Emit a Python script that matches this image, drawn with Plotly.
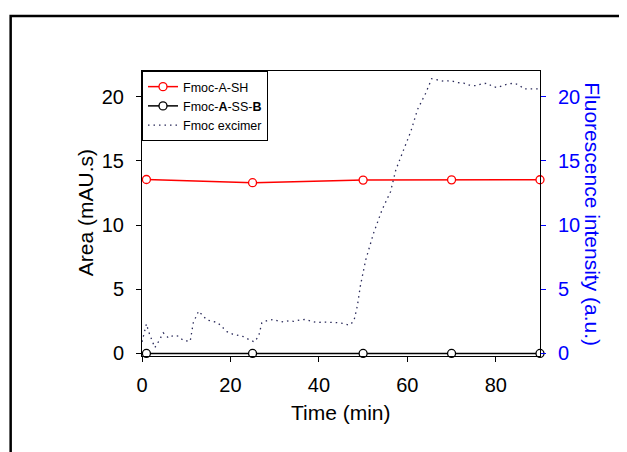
import plotly.graph_objects as go

# ---- data ----
hplc_time = [1, 25, 50, 70, 90]
fmoc_a_sh = [13.55, 13.3, 13.5, 13.52, 13.53]
fmoc_a_ss_b = [0, 0, 0, 0, 0]

exc_time = [0, 0.5, 1, 1.5, 2.2, 2.9, 3.7, 4.8, 6, 7.1, 8.2, 9.4, 10.9, 11.6, 12.8, 13.6,
            14.7, 16, 17.1, 19.2, 20.5, 21.8, 23, 24.1, 25.4, 26.4, 27.1, 28.3, 29.8, 31,
            32, 33.2, 34.3, 35.6, 37, 38.3, 39.6, 41, 42.6, 44, 45.6, 46.8, 47.9, 48.7,
            49.4, 50.6, 52.4, 54.3, 56.2, 57.4, 59.2, 60.8, 62.3, 64.2, 65.5, 66.8, 68.3,
            69.8, 71.3, 72.8, 74, 75.5, 76.8, 78.1, 79.2, 80.4, 81.8, 83, 84.2, 85.3, 86.4,
            88, 89.5, 90]
exc_val = [0.9, 1.6, 2.3, 1.7, 1.1, 0.45, 0.9, 1.6, 1.2, 1.4, 1.35, 1.0, 0.95, 2.4, 3.3, 3.0,
           2.6, 2.5, 2.4, 1.7, 1.5, 1.4, 1.3, 1.1, 0.9, 1.35, 2.4, 2.55, 2.65, 2.5,
           2.45, 2.55, 2.5, 2.6, 2.65, 2.5, 2.4, 2.45, 2.45, 2.4, 2.33, 2.2, 2.5, 3.7,
           5.3, 7.3, 9.4, 11.2, 12.6, 14.3, 15.9, 17.3, 19.0, 20.3, 21.4, 21.3, 21.2,
           21.25, 21.1, 21.05, 20.9, 20.85, 21.0, 21.05, 20.8, 20.7, 20.9, 21.0, 21.05, 20.9, 20.6,
           20.6, 20.6, 20.5]

x_ticks = [0, 20, 40, 60, 80]
y_ticks = [0, 5, 10, 15, 20]

FONT = "Arial, Liberation Sans, sans-serif"
BLUE = "#0000FF"

fig = go.Figure()
fig.add_trace(go.Scatter(
    x=hplc_time, y=fmoc_a_sh, name="Fmoc-A-SH", mode="lines+markers",
    line=dict(color="#FF0000", width=1.5),
    marker=dict(symbol="circle", size=8, color="white", line=dict(color="#FF0000", width=1.3)),
    cliponaxis=False))
fig.add_trace(go.Scatter(
    x=hplc_time, y=fmoc_a_ss_b, name="Fmoc-<b>A</b>-SS-<b>B</b>", mode="lines+markers",
    line=dict(color="black", width=1.5),
    marker=dict(symbol="circle", size=8, color="white", line=dict(color="black", width=1.3)),
    cliponaxis=False))
fig.add_trace(go.Scatter(
    x=exc_time, y=exc_val, name="Fmoc excimer", mode="lines", yaxis="y2",
    line=dict(color="#2a2a5a", width=1.3, dash="1.5px,4px")))

axis_common = dict(showgrid=False, zeroline=False, showline=True, linecolor="black",
                   linewidth=1, ticks="outside", ticklen=5)

fig.update_layout(
    width=627, height=452,
    margin=dict(l=134, r=95, t=63, b=103.5),
    paper_bgcolor="white", plot_bgcolor="white",
    font=dict(family=FONT, size=20, color="black"),
    showlegend=True,
    legend=dict(x=0, y=1, xanchor="left", yanchor="top", bgcolor="white",
                bordercolor="black", borderwidth=1, font=dict(size=12.5, family=FONT),
                tracegroupgap=0),
    xaxis=dict(range=[0, 90], tickvals=x_ticks, mirror=True, tickcolor="black",
               ticklabelstandoff=6, **axis_common),
    yaxis=dict(range=[-0.2, 22], tickvals=y_ticks, tickcolor="black",
               ticklabelstandoff=8, **axis_common),
    yaxis2=dict(range=[-0.2, 22], tickvals=y_ticks, overlaying="y", side="right",
                tickcolor=BLUE, tickfont=dict(color=BLUE, size=20), ticklabelstandoff=8,
                **axis_common),
    annotations=[
        dict(text="Area (mAU.s)", xref="paper", yref="paper", x=-0.1434, y=0.5044,
             textangle=-90, showarrow=False, font=dict(size=21, family=FONT, color="black"),
             xanchor="center", yanchor="middle"),
        dict(text="Fluorescence intensity (a.u.)", xref="paper", yref="paper", x=1.132, y=0.499,
             textangle=90, showarrow=False, font=dict(size=21, family=FONT, color=BLUE),
             xanchor="center", yanchor="middle"),
        dict(text="Time (min)", xref="paper", yref="paper", x=0.5, y=-0.198,
             showarrow=False, font=dict(size=21, family=FONT, color="black"),
             xanchor="center", yanchor="middle"),
    ],
    shapes=[
        dict(type="rect", xref="paper", yref="paper", x0=-0.33, x1=1.3, y0=-0.5, y1=1.1926,
             line=dict(color="black", width=2.5), fillcolor="rgba(0,0,0,0)", layer="below"),
    ],
)

fig.write_html("out.html")
